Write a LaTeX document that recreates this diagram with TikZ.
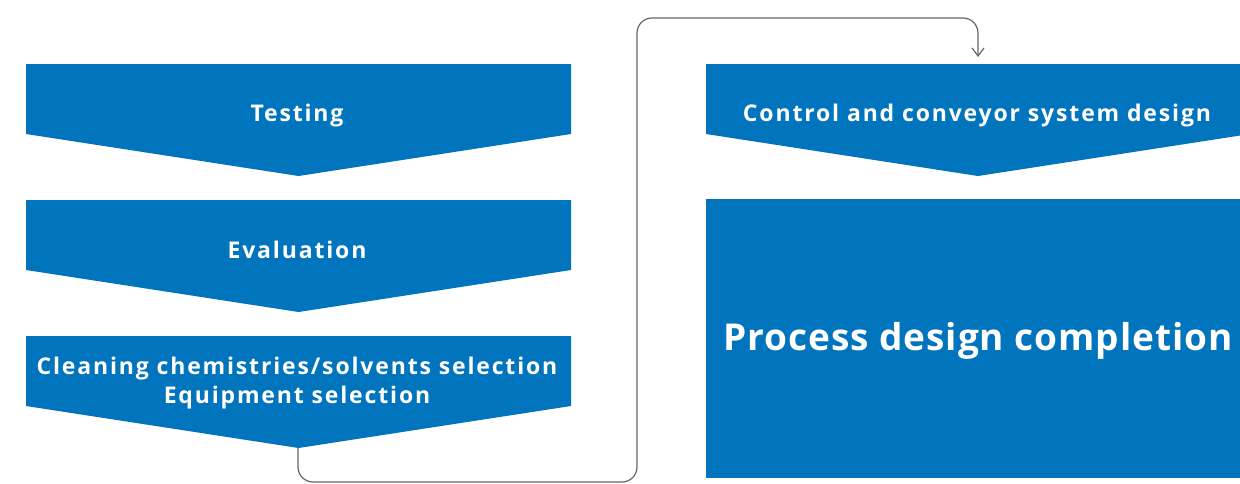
\documentclass[tikz,border=0pt]{standalone}
\usepackage{fontspec}
\setmainfont{Open Sans}[LetterSpace=2.5]
\newfontfamily\spacedfont{Open Sans}[LetterSpace=8]
\usetikzlibrary{arrows.meta}
\definecolor{boxblue}{RGB}{0,116,188}
\definecolor{linegray}{RGB}{100,100,100}
\tikzset{
  chev/.style={fill=boxblue, draw=none},
  lbl/.style={text=white, font=\spacedfont\bfseries\fontsize{23}{29}\selectfont, align=center, inner sep=0pt},
  biglbl/.style={text=white, font=\bfseries\fontsize{37}{44}\selectfont, align=center, inner sep=0pt},
  conn/.style={draw=linegray, line width=1.2pt, rounded corners=15pt, -{Straight Barb[length=8pt,width=12pt,line width=1.2pt]}}
}
\begin{document}
\begin{tikzpicture}[x=1pt,y=-1pt]
\clip (0,0) rectangle (1240,483);
\fill[white] (0,0) rectangle (1240,483);
% chevrons left
\fill[chev] (26,64) -- (571,64) -- (571,134) -- (298.5,176) -- (26,134) -- cycle;
\fill[chev] (26,200) -- (571,200) -- (571,270) -- (298.5,312) -- (26,270) -- cycle;
\fill[chev] (26,336) -- (571,336) -- (571,406) -- (298.5,448) -- (26,406) -- cycle;
% right
\fill[chev] (706,64) -- (1250,64) -- (1250,134) -- (978,176) -- (706,134) -- cycle;
\fill[chev] (706,199) rectangle (1250,478);
\node[lbl] (testing) at (297,116) {Testing};
\node[lbl] (eval) at (297,250) {Evaluation};
\node[lbl] (clean) at (297,383) {Cleaning chemistries/solvents selection\\Equipment selection};
\node[lbl] (control) at (977,116) {Control and conveyor system design};
\node[biglbl] (process) at (978,341) {Process design completion};
\coordinate (tip3) at (298,448);
\coordinate (top4) at (978,57);
\draw[conn] (tip3) -- (298,482) -- (637,482) -- (637,18) -- (978,18) -- (top4);
\end{tikzpicture}
\end{document}
